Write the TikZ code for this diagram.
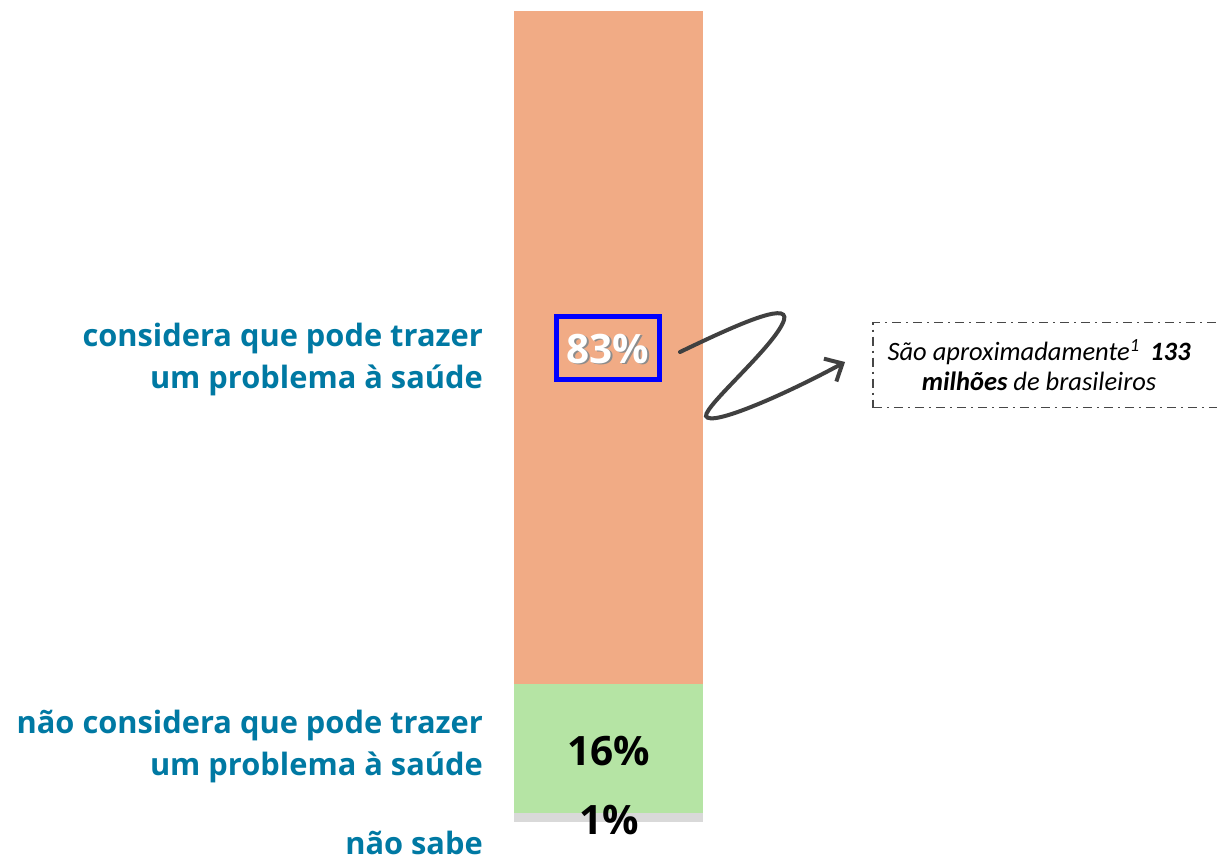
\documentclass[tikz,border=0pt]{standalone}
\usepackage{fontspec}
\setmainfont{Open Sans}
\newfontfamily\calib{Carlito}
\usetikzlibrary{arrows.meta}
\definecolor{barorange}{HTML}{F1AB85}
\definecolor{bargreen}{HTML}{B5E4A4}
\definecolor{bargray}{HTML}{D9D9D9}
\definecolor{labteal}{HTML}{0079A3}
\definecolor{arrowgray}{HTML}{404040}
\tikzset{
  lab/.style={font=\fontsize{30.8}{42}\selectfont\bfseries, text=labteal, anchor=base east, inner sep=0pt},
  pct/.style={font=\fontsize{40.5}{46}\selectfont\bfseries, inner sep=0pt},
}
\begin{document}
\begin{tikzpicture}[x=1pt,y=-1pt]
\useasboundingbox (0,0) rectangle (1217,859);
\fill[white] (0,0) rectangle (1217,859);
% bar
\fill[barorange] (514,11) rectangle (703,684);
\fill[bargreen] (514,684) rectangle (703,813);
\fill[bargray] (514,813) rectangle (703,822);
% labels
\node[lab] (l1a) at (483,346) {considera que pode trazer};
\node[lab] (l1b) at (483,388) {um problema à saúde};
\node[lab] (l2a) at (483,733) {não considera que pode trazer};
\node[lab] (l2b) at (483,775) {um problema à saúde};
\node[lab] (l3) at (483,854) {não sabe};
% 83%
\node[draw=blue, line width=5.5pt, minimum width=103pt, minimum height=63pt, inner sep=0pt] (box83) at (608,348) {};
\node[pct, text=black!45] at (609.5,350.5) {83\%};
\node[pct, text=white] (p83) at (608,349) {83\%};
\node[pct, text=black] (p16) at (609,751) {16\%};
\node[pct, text=black] (p1) at (609,820) {1\%};
% callout
\node[draw=black!72, line width=1.8pt, dash pattern=on 9pt off 5pt on 2pt off 5pt, minimum width=360pt, minimum height=85pt, anchor=west, inner sep=0pt] (callout) at (872,365) {};
\node[font=\calib\fontsize{26.5}{30}\selectfont\itshape, align=center] (ctext) at (1039,365) {São aproximadamente\textsuperscript{1}\, \textbf{133}\\\textbf{milhões} de brasileiros};
% squiggle arrow
\coordinate (a0) at (680,352);
\coordinate (a1) at (845,362);
\draw[arrowgray, line width=4pt, line cap=round, -{Straight Barb[length=14pt,width=26pt,line width=4pt]}]
  (a0) .. controls (730,328) and (790,300) .. (784,320)
  .. controls (776,345) and (705,405) .. (706,416)
  .. controls (710,428) and (790,392) .. (a1);
\end{tikzpicture}
\end{document}
